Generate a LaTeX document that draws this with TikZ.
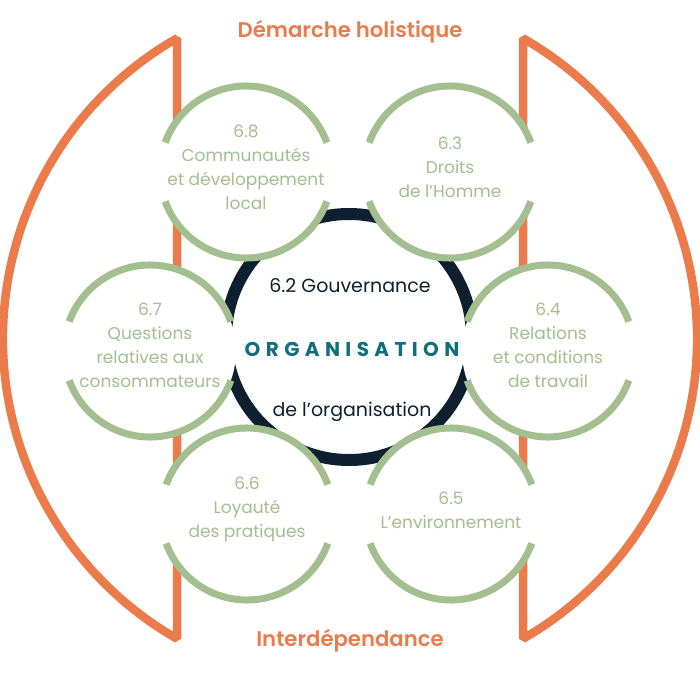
\documentclass[tikz,border=0pt]{standalone}
\usepackage{fontspec}
\setmainfont{Poppins}
\newfontfamily\poppinssemi{Poppins SemiBold}
\usetikzlibrary{positioning}
\definecolor{orangeH}{HTML}{EB7B4B}
\definecolor{greenH}{HTML}{A3BF8F}
\definecolor{navyH}{HTML}{0E1F2F}
\definecolor{tealH}{HTML}{0F6F7D}
\tikzset{
    frame/.style ={
        draw=orangeH,
        line width=8.5pt,
        line join=bevel
    },
    ring/.style ={
        draw=greenH,
        line width=7pt
    },
    topic/.style ={
        text=greenH,
        align=center,
        font=\fontsize{17}{24}\selectfont
    },
    title/.style ={
        text=orangeH,
        font=\fontsize{21.2}{25}\poppinssemi
    },
    inner/.style ={
        text=navyH,
        font=\fontsize{19}{22}\selectfont
    }
}

\begin{document}
\begin{tikzpicture}[x=1pt,y=-1pt]
    \useasboundingbox (0,0) rectangle (700,700);
    % outer brackets
    \draw[frame] (177,38.3) arc (240.2:119.8:346) -- cycle;
    \draw[frame] (523,38.3) arc (-60.2:60.2:346) -- cycle;
    % governance ring
    \draw[navyH,line width=12pt] (349,337) circle (123);
    % the six questions
    \coordinate (c68) at (246,172);
    \coordinate (c63) at (450,172);
    \coordinate (c67) at (150,351);
    \coordinate (c64) at (548,351);
    \coordinate (c66) at (247,514);
    \coordinate (c65) at (451,514);
    \fill[white] (c68) circle (86);
    \draw[ring] ([shift={(20:86)}]c68) arc (20:160:86);
    \draw[ring] ([shift={(200:86)}]c68) arc (200:340:86);
    \fill[white] (c63) circle (86);
    \draw[ring] ([shift={(20:86)}]c63) arc (20:160:86);
    \draw[ring] ([shift={(200:86)}]c63) arc (200:340:86);
    \fill[white] (c67) circle (86);
    \draw[ring] ([shift={(20:86)}]c67) arc (20:160:86);
    \draw[ring] ([shift={(200:86)}]c67) arc (200:340:86);
    \fill[white] (c64) circle (86);
    \draw[ring] ([shift={(20:86)}]c64) arc (20:160:86);
    \draw[ring] ([shift={(200:86)}]c64) arc (200:340:86);
    \fill[white] (c66) circle (86);
    \draw[ring] ([shift={(20:86)}]c66) arc (20:160:86);
    \draw[ring] ([shift={(200:86)}]c66) arc (200:340:86);
    \fill[white] (c65) circle (86);
    \draw[ring] ([shift={(20:86)}]c65) arc (20:160:86);
    \draw[ring] ([shift={(200:86)}]c65) arc (200:340:86);
    \node[topic] (t68) at (246,167) {6.8\\Communautés\\et développement\\local};
    \node[topic] (t63) at (450,167) {6.3\\Droits\\de l’Homme};
    \node[topic] (t67) at (150,345) {6.7\\Questions\\relatives aux\\consommateurs};
    \node[topic] (t64) at (548,345) {6.4\\Relations\\et conditions\\de travail};
    \node[topic] (t66) at (247,509) {6.6\\Loyauté\\des pratiques};
    \node[topic] (t65) at (451,510) {6.5\\L’environnement};
    % centre
    \node[text=tealH,font=\fontsize{20}{22}\bfseries\addfontfeature{LetterSpace=27}] (org) at (352,349) {ORGANISATION};
    \node[inner] (gov) at (350,286) {6.2 Gouvernance};
    \node[inner] (govb) at (352,412) {de l’organisation};
    \node[title] (holist) at (350,32) {Démarche holistique};
    \node[title] (interd) at (350,641) {Interdépendance};
\end{tikzpicture}
\end{document}
